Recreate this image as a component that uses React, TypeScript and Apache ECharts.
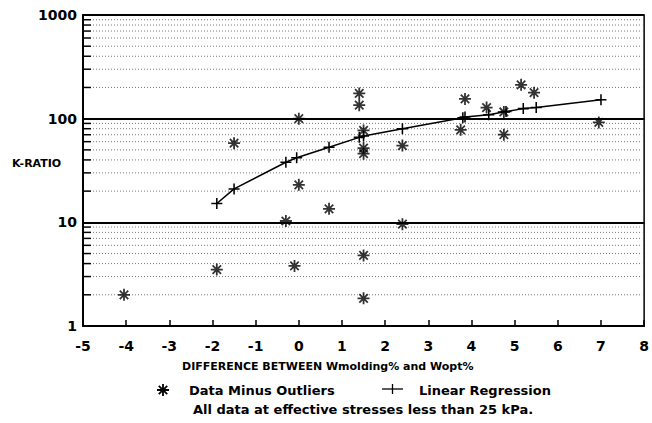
import React, { useEffect, useRef } from "react";
import * as echarts from "echarts";

// ---- data ----
const xMin = -5;
const xMax = 8;
const yMin = 1;
const yMax = 1000;

const scatterX = [-4.05, -1.9, -1.5, -0.3, -0.1, 0, 0, 0.7, 1.4, 1.4, 1.5, 1.5, 1.5, 1.5, 1.5, 2.4, 2.4, 3.75, 3.85, 4.35, 4.75, 4.75, 5.15, 5.45, 6.95];
const scatterY = [2.0, 3.5, 58, 10.3, 3.8, 100, 23, 13.5, 175, 135, 77, 52, 46, 4.8, 1.85, 55, 9.6, 78, 155, 128, 116, 70, 212, 178, 92];

const regX = [-1.9, -1.5, -0.3, -0.05, 0.7, 1.4, 1.5, 2.4, 3.8, 3.85, 4.4, 4.8, 5.2, 5.5, 7.0];
const regY = [15.2, 21, 38, 42, 53, 66, 68, 80, 102, 104, 109, 117, 125, 128, 152];

const minorGridValues = [2, 3, 4, 5, 6, 7, 8, 9, 20, 30, 40, 50, 60, 70, 80, 90, 200, 300, 400, 500, 600, 700, 800, 900];

const seriesNames = ["Data Minus Outliers", "Linear Regression"];
const yAxisTitle = "K-RATIO";
const xAxisTitle = "DIFFERENCE BETWEEN Wmolding% and Wopt%";
const subtitle = "All data at effective stresses less than 25 kPa.";

const AST_D =
  "M-10,-1.5L10,-1.5L10,1.5L-10,1.5Z M-1.5,-10L1.5,-10L1.5,10L-1.5,10Z M-6,-8.1L8.1,6L6,8.1L-8.1,-6Z M-8.1,6L6,-8.1L8.1,-6L-6,8.1Z";
const CROSS_D = "M-0.7,-5L0.7,-5L0.7,5L-0.7,5Z M-5,-0.7L5,-0.7L5,0.7L-5,0.7Z";

const FONT = "DejaVu Sans";

export default function App() {
  const ref = useRef<HTMLDivElement>(null);

  useEffect(() => {
    document.body.style.margin = "0";
    echarts.graphic.registerShape("asterisk", echarts.graphic.extendPath(AST_D, {}) as any);
    const chart = echarts.init(ref.current!, null, { renderer: "svg" });

    const option: any = {
      animation: false,
      backgroundColor: "#fff",
      grid: {
        left: 83,
        right: 4,
        top: 15,
        bottom: 97,
        show: true,
        borderColor: "#000",
        borderWidth: 1.5,
      },
      xAxis: {
        type: "value",
        min: xMin,
        max: xMax,
        interval: 1,
        axisLine: { show: true, onZero: false, lineStyle: { color: "#000", width: 2 } },
        axisTick: { show: true, inside: true, length: 6, lineStyle: { color: "#000", width: 1.5 } },
        axisLabel: {
          color: "#000",
          fontFamily: FONT,
          fontWeight: "bold",
          fontSize: 14,
          margin: 13,
          showMinLabel: true,
          showMaxLabel: true,
        },
        splitLine: { show: false },
      },
      yAxis: {
        type: "log",
        logBase: 10,
        min: yMin,
        max: yMax,
        axisLine: { show: true, onZero: false, lineStyle: { color: "#000", width: 2 } },
        axisTick: { show: true, inside: true, length: 8, lineStyle: { color: "#000", width: 1.5 } },
        axisLabel: {
          color: "#000",
          fontFamily: FONT,
          fontWeight: "bold",
          fontSize: 14,
          margin: 6,
          formatter: (v: number) => String(Math.round(v)),
        },
        splitLine: { show: true, lineStyle: { color: "#000", width: 2 } },
      },
      series: [
        {
          type: "custom",
          silent: true,
          z: 1,
          encode: { x: 0, y: 1 },
          data: minorGridValues.map((v) => [xMin, v]),
          renderItem: (params: any, api: any) => {
            const v = api.value(1);
            const p0 = api.coord([xMin, v]);
            const p1 = api.coord([xMax, v]);
            return {
              type: "group",
              children: [
                {
                  type: "line",
                  shape: { x1: p0[0], y1: p0[1], x2: p0[0] + 8, y2: p0[1] },
                  style: { stroke: "#000", lineWidth: 1.5 },
                },
                {
                  type: "line",
                  shape: { x1: p0[0] + 10, y1: p0[1], x2: p1[0] - 2, y2: p1[1] },
                  style: { stroke: "#7a7a7a", lineWidth: 1, lineDash: [1, 2] },
                },
              ],
            };
          },
        },
        {
          name: seriesNames[0],
          type: "scatter",
          z: 5,
          symbol: "path://" + AST_D,
          symbolSize: 12,
          itemStyle: { color: "#000" },
          data: scatterX.map((x, i) => [x, scatterY[i]]),
        },
        {
          name: seriesNames[1],
          type: "line",
          z: 4,
          symbol: "path://" + CROSS_D,
          symbolSize: 11,
          showSymbol: true,
          lineStyle: { color: "#000", width: 1.5 },
          itemStyle: { color: "#000" },
          data: regX.map((x, i) => [x, regY[i]]),
        },
      ],
      graphic: [
        {
          type: "text",
          x: 12,
          y: 163,
          style: { text: yAxisTitle, fontFamily: FONT, fontWeight: "bold", fontSize: 11, fill: "#000", verticalAlign: "middle", align: "left" },
        },
        {
          type: "text",
          x: 182,
          y: 366,
          style: { text: xAxisTitle, fontFamily: FONT, fontWeight: "bold", fontSize: 11, fill: "#000", verticalAlign: "middle", align: "left" },
        },
        {
          type: "asterisk",
          x: 163,
          y: 390,
          scaleX: 0.6,
          scaleY: 0.6,
          style: { fill: "#000" },
        },
        {
          type: "text",
          x: 189,
          y: 390,
          style: { text: seriesNames[0], fontFamily: FONT, fontWeight: "bold", fontSize: 13, fill: "#000", verticalAlign: "middle", align: "left" },
        },
        {
          type: "line",
          shape: { x1: 382, y1: 389, x2: 403, y2: 389 },
          style: { stroke: "#000", lineWidth: 1.3 },
        },
        {
          type: "line",
          shape: { x1: 392.5, y1: 384, x2: 392.5, y2: 394 },
          style: { stroke: "#000", lineWidth: 1.3 },
        },
        {
          type: "text",
          x: 419,
          y: 390,
          style: { text: seriesNames[1], fontFamily: FONT, fontWeight: "bold", fontSize: 13, fill: "#000", verticalAlign: "middle", align: "left" },
        },
        {
          type: "text",
          x: 193,
          y: 409,
          style: { text: subtitle, fontFamily: FONT, fontWeight: "bold", fontSize: 13, fill: "#000", verticalAlign: "middle", align: "left" },
        },
      ],
    };

    chart.setOption(option);
    return () => chart.dispose();
  }, []);

  return <div ref={ref} style={{ width: 652, height: 423 }} />;
}
